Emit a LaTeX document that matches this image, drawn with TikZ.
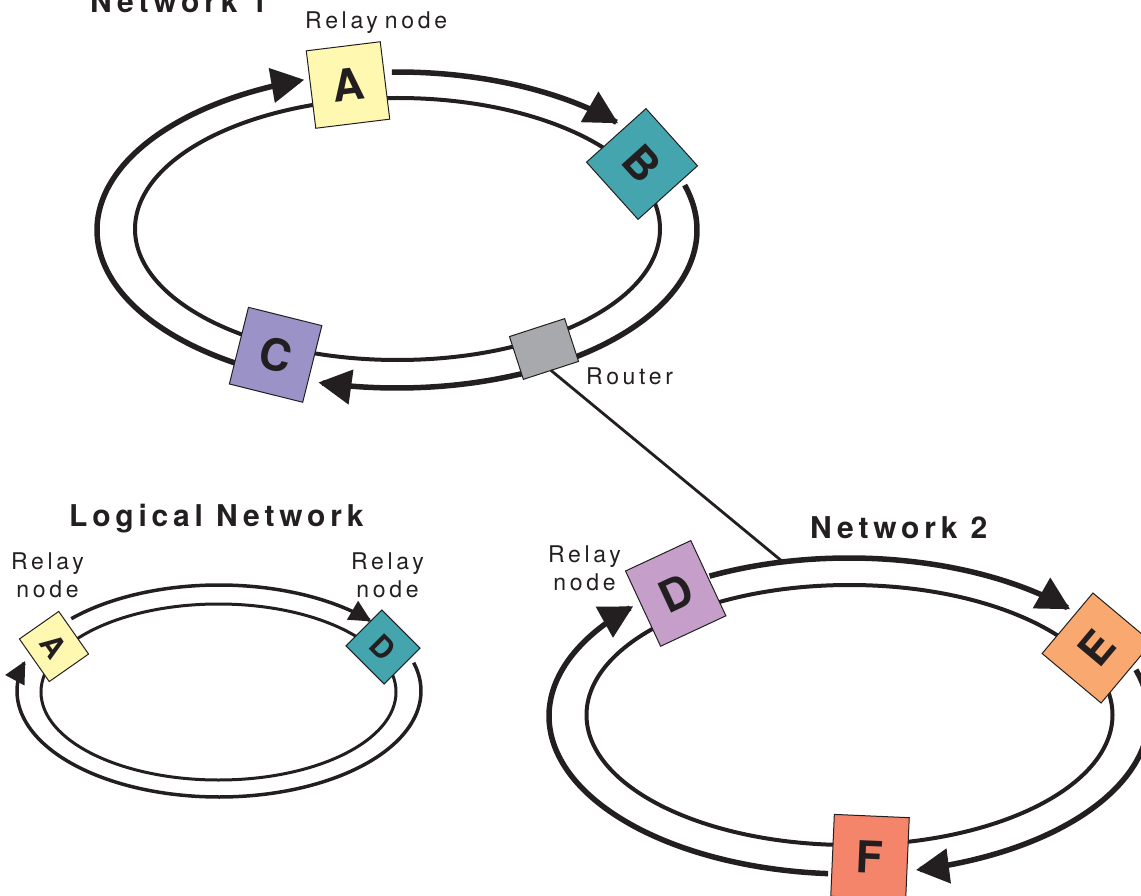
\documentclass[tikz,border=0pt]{standalone}
\usepackage{fontspec}
\setmainfont{TeX Gyre Heros}
\newfontfamily\lblfont[LetterSpace=16]{TeX Gyre Heros}
\usetikzlibrary{arrows.meta}
\definecolor{ink}{HTML}{231F20}
\definecolor{cA}{HTML}{FFF8B0}
\definecolor{cB}{HTML}{45A5AE}
\definecolor{cC}{HTML}{9B93C8}
\definecolor{cR}{HTML}{A7A9AC}
\definecolor{cD}{HTML}{C59FCA}
\definecolor{cE}{HTML}{F9A96F}
\definecolor{cF}{HTML}{F4846A}
\tikzset{
  box/.style={draw=ink, line width=1pt, inner sep=0pt, outer sep=0pt, text=ink,
    font=\fontsize{44}{44}\selectfont\bfseries},
  sbox/.style={box, font=\fontsize{30}{30}\selectfont\bfseries},
  ring/.style={draw=ink, line width=5.5pt},
  iring/.style={draw=ink, line width=4pt},
  lring/.style={draw=ink, line width=3.5pt},
  liring/.style={draw=ink, line width=3pt},
  bigtip/.style={-{Triangle[length=33pt,width=34pt]}},
  smalltip/.style={-{Triangle[length=22pt,width=21pt]}},
  lab/.style={inner sep=0pt, text=ink, font=\lblfont\fontsize{23}{28}\selectfont},
  ttl/.style={inner sep=0pt, text=ink, font=\lblfont\fontsize{30}{30}\selectfont\bfseries},
  wire/.style={draw=ink, line width=2.8pt}
}
\begin{document}
\begin{tikzpicture}[x=1pt,y=-1pt]
\useasboundingbox (0,0) rectangle (1141,896);
\clip (0,0) rectangle (1141,896);

% ---------------- Network 1 ----------------
\draw[iring] (397.5,229) ellipse [x radius=262.5pt, y radius=131pt];
\draw[ring,bigtip] plot[domain=245:108,samples=150] ({397+300*cos(\x)},{230-158*sin(\x)});
\draw[ring,bigtip] plot[domain=91:42.5,samples=100] ({397+300*cos(\x)},{230-158*sin(\x)});
\draw[ring,bigtip] plot[domain=16.5:-105.2,samples=150] ({397+300*cos(\x)},{230-158*sin(\x)});

% ---------------- Network 2 ----------------
\draw[iring] (849.5,715) ellipse [x radius=263pt, y radius=130pt];
\draw[ring,bigtip] plot[domain=266:136,samples=150] ({849+300*cos(\x)},{716-158*sin(\x)});
\draw[ring,bigtip] plot[domain=117.7:42.5,samples=100] ({849+300*cos(\x)},{716-158*sin(\x)});
\draw[ring,bigtip] plot[domain=17:-77.1,samples=120] ({849+300*cos(\x)},{716-158*sin(\x)});

% ---------------- Logical network ----------------
\draw[liring] (218.5,692) ellipse [x radius=177.5pt, y radius=88pt];
\draw[lring,smalltip] plot[domain=137:41,samples=120] ({219+202*cos(\x)},{691-106*sin(\x)});
\draw[lring,smalltip] plot[domain=15.5:-196.5,samples=180] ({219+202*cos(\x)},{691-106*sin(\x)});

% ---------------- nodes ----------------
\node[box, fill=cA, minimum width=74.5pt, minimum height=78pt, rotate=7] (A) at (348,85) {A};
\node[box, fill=cB, minimum width=77pt, minimum height=80pt, rotate=-48] (B) at (642,164) {B};
\node[box, fill=cC, minimum width=75.6pt, minimum height=79pt, rotate=-14] (C) at (275.6,354.8) {C};
\node[box, fill=cR, minimum width=58pt, minimum height=45pt, rotate=18] (router) at (544,349) {};
\node[box, fill=cD, minimum width=72pt, minimum height=83pt, rotate=25] (D) at (675.7,593.4) {D};
\node[box, fill=cE, minimum width=79pt, minimum height=77pt, rotate=50] (E) at (1097,648) {E};
\node[box, fill=cF, minimum width=75pt, minimum height=82pt, rotate=-2.5] (F) at (870,857) {F};
\node[sbox, fill=cA, minimum width=52pt, minimum height=48pt, rotate=-55] (LA) at (54,646.5) {A};
\node[sbox, fill=cB, minimum width=54pt, minimum height=50.8pt, rotate=-45] (LD) at (383,647) {D};

% router link
\coordinate (n2top) at (783,562);
\draw[wire] (router.south) -- (n2top);

% ---------------- labels ----------------
\node[ttl, anchor=base west] (t1) at (90,12.7) {Network 1};
\node[ttl, anchor=base west] (t2) at (810,538.3) {Network 2};
\node[ttl, anchor=base west] (t3) at (69,526) {Logical Network};
\node[lab, anchor=base west] (l1) at (305,29) {Relay\hspace{-3pt} node};
\node[lab, anchor=base west] (l2) at (586,384) {Router};
\node[lab, align=center] (l3) at (47.5,575) {Relay\\node};
\node[lab, align=center] (l4) at (387.5,575) {Relay\\node};
\node[lab, align=center] (l5) at (584.5,568) {Relay\\node};
\end{tikzpicture}
\end{document}
